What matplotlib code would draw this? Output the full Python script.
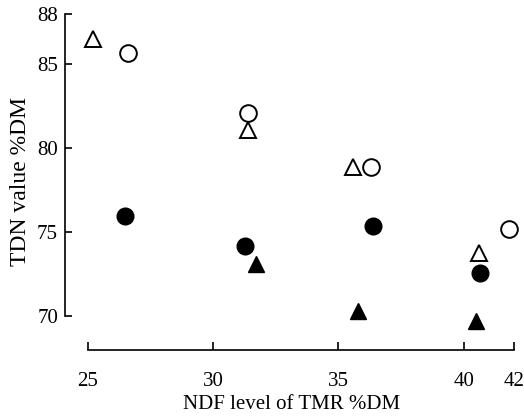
import matplotlib
matplotlib.use('Agg')
import matplotlib.pyplot as plt

# NDF level (%DM) and TDN value (%DM) for each group
open_circle_x = [26.6, 31.4, 36.3, 41.8]
open_circle_y = [85.7, 82.1, 78.9, 75.2]
filled_circle_x = [26.5, 31.3, 36.4, 40.65]
filled_circle_y = [76.0, 74.2, 75.4, 72.6]
open_tri_x = [25.2, 31.4, 35.6, 40.6]
open_tri_y = [86.5, 81.1, 78.9, 73.8]
filled_tri_x = [31.7, 35.8, 40.5]
filled_tri_y = [73.1, 70.3, 69.7]

x_ticks = [25, 30, 35, 40, 42]
y_ticks = [70, 75, 80, 85, 88]

plt.rcParams['font.family'] = ['Liberation Serif']

fig = plt.figure(figsize=(5.24, 4.2), dpi=100)
ax = fig.add_axes([0.124, 0.1667, 0.866, 0.8])

ms = 12
ax.plot(open_circle_x, open_circle_y, 'o', ms=ms, mfc='white', mec='black', mew=1.4, clip_on=False)
ax.plot(filled_circle_x, filled_circle_y, 'o', ms=ms, mfc='black', mec='black', clip_on=False)
ax.plot(open_tri_x, open_tri_y, '^', ms=ms, mfc='white', mec='black', mew=1.4, clip_on=False)
ax.plot(filled_tri_x, filled_tri_y, '^', ms=ms, mfc='black', mec='black', clip_on=False)

ax.set_xlim(24.1, 42.2)
ax.set_ylim(68, 88)
ax.set_xticks(x_ticks)
ax.set_yticks(y_ticks)

for side in ['top', 'right']:
    ax.spines[side].set_visible(False)
ax.spines['left'].set_bounds(70, 88)
ax.spines['bottom'].set_bounds(25, 42)
ax.spines['left'].set_linewidth(1.2)
ax.spines['bottom'].set_linewidth(1.2)

ax.tick_params(axis='x', direction='in', length=6, width=1.2, pad=16, labelsize=15)
ax.tick_params(axis='y', direction='in', length=5, width=1.2, pad=5, labelsize=15)

ax.set_xlabel('NDF level of TMR %DM', fontsize=15, labelpad=3)
ax.set_ylabel('TDN value %DM', fontsize=17, labelpad=4)

fig.savefig('out.png', dpi=100)
